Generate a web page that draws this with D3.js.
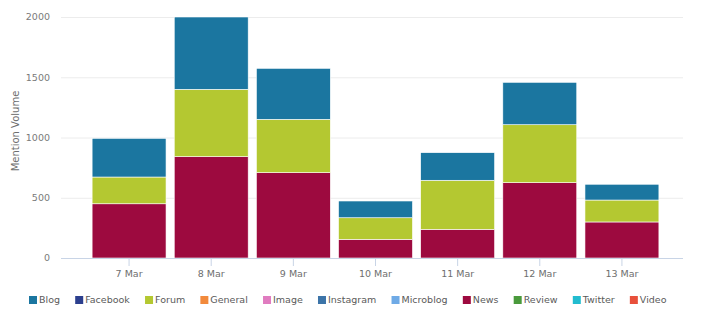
<!DOCTYPE html>
<html>
<head>
<meta charset="utf-8">
<script src="https://cdn.jsdelivr.net/npm/d3@7"></script>
<style>
  html, body { margin: 0; padding: 0; background: #fff; }
  svg { display: block; font-family: "DejaVu Sans", sans-serif; }
</style>
</head>
<body>
<svg id="chart"></svg>
<script>
// data
const days = ['7 Mar', '8 Mar', '9 Mar', '10 Mar', '11 Mar', '12 Mar', '13 Mar'];
const news = [450, 841, 708, 155, 238, 625, 299];
const forum = [222, 559, 443, 179, 407, 481, 182];
const blog = [321, 600, 423, 139, 229, 352, 131];
const yTicks = [0, 500, 1000, 1500, 2000];

const legendNames = ['Blog', 'Facebook', 'Forum', 'General', 'Image', 'Instagram', 'Microblog', 'News', 'Review', 'Twitter', 'Video'];
const legendColors = ['#1b76a0', '#2c3f8e', '#b4c831', '#f28a3c', '#e07cc0', '#3c74a8', '#6faae6', '#9d0a3f', '#4a9a3c', '#22bccf', '#e8503b'];
const colorOf = (name) => legendColors[legendNames.indexOf(name)];

const width = 711;
const height = 318;

const svg = d3.select('#chart')
  .attr('width', width)
  .attr('height', height)
  .attr('viewBox', [0, 0, width, height]);

const rows = days.map((d, i) => ({ day: d, News: news[i], Forum: forum[i], Blog: blog[i] }));
const keys = ['News', 'Forum', 'Blog'];
const stacked = d3.stack().keys(keys)(rows);

const x = d3.scaleBand()
  .domain(days)
  .range([88, 663])
  .paddingInner(0.1)
  .paddingOuter(0.05);

const y = d3.scaleLinear()
  .domain([0, 2000])
  .range([258, 17]);

const plotLeft = 61;
const plotRight = 683;

// grid
svg.append('g')
  .selectAll('line')
  .data(yTicks.filter((d) => d > 0))
  .join('line')
  .attr('x1', plotLeft)
  .attr('x2', plotRight)
  .attr('y1', (d) => y(d) + 0.5)
  .attr('y2', (d) => y(d) + 0.5)
  .attr('stroke', '#ececec')
  .attr('stroke-width', 1);

// y labels
svg.append('g')
  .selectAll('text')
  .data(yTicks)
  .join('text')
  .attr('x', 50)
  .attr('y', (d) => y(d))
  .attr('dy', '0.35em')
  .attr('text-anchor', 'end')
  .attr('font-size', 9.5)
  .attr('fill', '#7a7a7a')
  .text((d) => d);

svg.append('text')
  .attr('transform', 'translate(15, 131) rotate(-90)')
  .attr('text-anchor', 'middle')
  .attr('dy', '0.35em')
  .attr('font-size', 10)
  .attr('fill', '#6e6e6e')
  .text('Mention Volume');

// bars
svg.append('g')
  .selectAll('g')
  .data(stacked)
  .join('g')
  .attr('fill', (s) => colorOf(s.key))
  .selectAll('rect')
  .data((s) => s)
  .join('rect')
  .attr('x', (d) => x(d.data.day))
  .attr('width', x.bandwidth())
  .attr('y', (d) => y(d[1]))
  .attr('height', (d) => y(d[0]) - y(d[1]))
  .attr('stroke', '#fff')
  .attr('stroke-width', 0.6);

// x axis
svg.append('line')
  .attr('x1', plotLeft)
  .attr('x2', plotRight)
  .attr('y1', y(0) + 0.5)
  .attr('y2', y(0) + 0.5)
  .attr('stroke', '#c8d4e6');

const xt = svg.append('g')
  .selectAll('g')
  .data(days)
  .join('g')
  .attr('transform', (d) => `translate(${x(d) + x.bandwidth() / 2}, ${y(0)})`);

xt.append('line')
  .attr('y1', 0)
  .attr('y2', 8)
  .attr('stroke', '#c8d4e6');

xt.append('text')
  .attr('y', 12)
  .attr('dy', '0.71em')
  .attr('text-anchor', 'middle')
  .attr('font-size', 9.5)
  .attr('fill', '#6e6e6e')
  .text((d) => d);

// legend
const legend = svg.append('g').attr('transform', 'translate(29, 300)');
let lx = 0;
legendNames.forEach((name, i) => {
  const g = legend.append('g').attr('transform', `translate(${lx}, 0)`);
  g.append('rect')
    .attr('x', 0)
    .attr('y', -4)
    .attr('width', 8)
    .attr('height', 8)
    .attr('fill', legendColors[i]);
  const t = g.append('text')
    .attr('x', 10)
    .attr('dy', '0.35em')
    .attr('font-size', 9.5)
    .attr('fill', '#5a5a5a')
    .text(name);
  lx += 10 + t.node().getComputedTextLength() + 15.2;
});
</script>
</body>
</html>
